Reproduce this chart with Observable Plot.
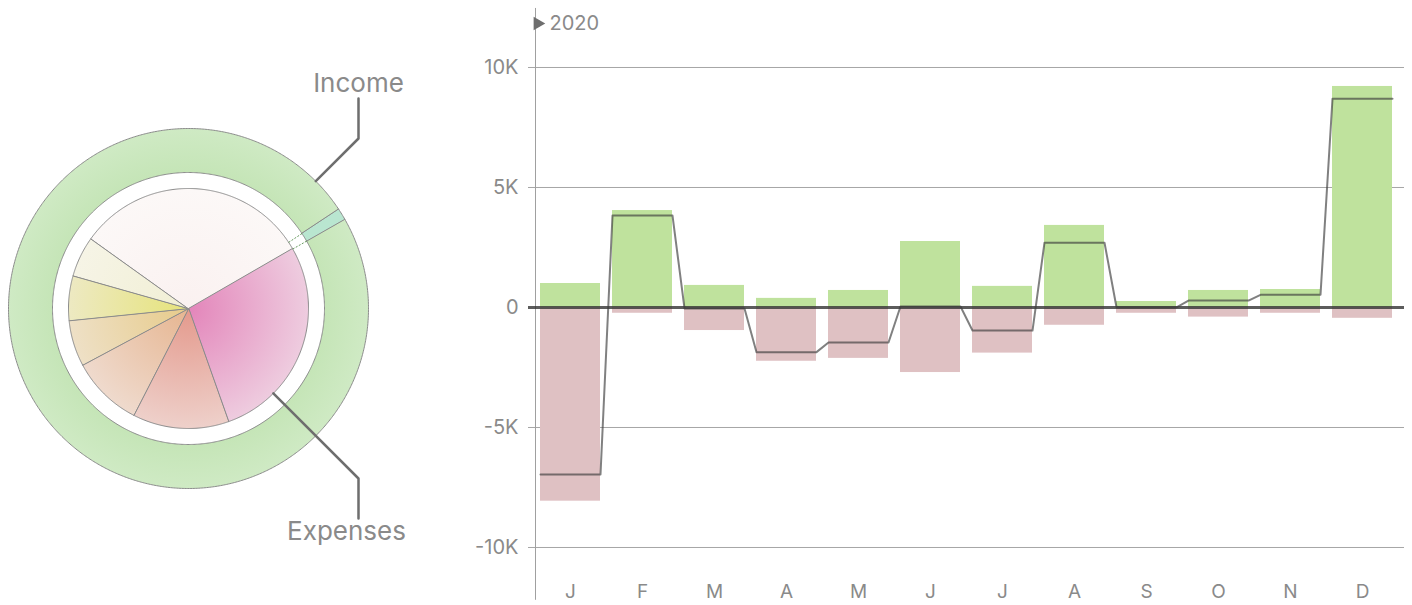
<!DOCTYPE html>
<html>
<head>
<meta charset="utf-8">
<script src="https://cdn.jsdelivr.net/npm/d3@7"></script>
<script src="https://cdn.jsdelivr.net/npm/@observablehq/plot@0.6"></script>
<style>
  html, body { margin: 0; padding: 0; background: #fff; }
  #wrap { display: flex; width: 1412px; height: 605px; overflow: hidden; }
  svg { display: block; }
</style>
</head>
<body>
<div id="wrap"></div>
<script>
// ---------------- DATA ----------------
const months = ["J", "F", "M", "A", "M", "J", "J", "A", "S", "O", "N", "D"];
const income = [1000, 4040, 920, 380, 710, 2750, 880, 3420, 250, 710, 750, 9210];
const expenses = [8070, 240, 960, 2240, 2120, 2710, 1900, 740, 240, 400, 240, 450];
const net = [-6960, 3830, -40, -1860, -1460, 40, -960, 2700, 10, 290, 530, 8700];
const yTicks = [-10000, -5000, 0, 5000, 10000];
const yTickLabels = ["-10K", "-5K", "0", "5K", "10K"];
const yearLabel = "2020";

const incomeCategories = ["Main income", "Other income"];
const incomeValues = [24750, 260];
const expenseCategories = ["Cat 1", "Cat 2", "Cat 3", "Cat 4", "Cat 5", "Cat 6", "Cat 7"];
const expenseValues = [5670, 2630, 1960, 1260, 1220, 1110, 6450];
const ringLabels = ["Income", "Expenses"];

// ---------------- STYLE ----------------
const textColor = "#8a8a8a";
const font = "Inter, 'Open Sans', sans-serif";
const expenseColors = [
  ["#e385ba", "#eeccdf"],
  ["#e4998c", "#eed0ca"],
  ["#e6b590", "#efdacd"],
  ["#e7cb8a", "#eee0c6"],
  ["#e6e37a", "#ede9c2"],
  ["#f1efd4", "#f6f4e6"],
  ["#faf1f0", "#fcf8f7"]
];
const ringColors = ["#c5e5b7", "#cfeac4"];
const otherIncomeColor = "#b9e6d0";

// ---------------- LEFT: RINGS ----------------
const deg = Math.PI / 180;
const R_PIE = 120, R_IN = 136, R_OUT = 180;
const polar = (r, a) => ({x: r * Math.sin(a), y: r * Math.cos(a)});
function sector(r0, r1, a0, a1) {
  const n = Math.max(2, Math.ceil((a1 - a0) / (0.5 * deg)));
  const pts = [];
  for (let k = 0; k <= n; k++) pts.push(polar(r1, a0 + (a1 - a0) * k / n));
  if (r0 > 0) {
    for (let k = n; k >= 0; k--) pts.push(polar(r0, a0 + (a1 - a0) * k / n));
  } else pts.push({x: 0, y: 0});
  return pts;
}
const expArcs = d3.pie().sort(null).startAngle(60 * deg).endAngle(420 * deg)(expenseValues);
const incArcs = d3.pie().sort(null).startAngle(60.3 * deg).endAngle(420.3 * deg)(incomeValues);

const leftMarks = [];
incArcs.forEach((a, i) => {
  leftMarks.push(Plot.line(sector(R_IN, R_OUT, a.startAngle, a.endAngle), {
    x: "x", y: "y", curve: "linear-closed",
    fill: i === 0 ? "url(#ringGrad)" : otherIncomeColor,
    stroke: "#8c8c8c", strokeWidth: 1
  }));
});
expArcs.forEach((a, i) => {
  leftMarks.push(Plot.line(sector(0, R_PIE, a.startAngle, a.endAngle), {
    x: "x", y: "y", curve: "linear-closed",
    fill: `url(#exp${i})`, stroke: "#8c8c8c", strokeWidth: 1
  }));
});
// dashed connectors at the edges of the small income slice
const small = incArcs[1];
const dashLinks = [small.startAngle, small.endAngle].map(a => {
  const p = polar(R_PIE, a), q = polar(R_IN, a);
  return {x1: p.x, y1: p.y, x2: q.x, y2: q.y};
});
leftMarks.push(Plot.link(dashLinks, {x1: "x1", y1: "y1", x2: "x2", y2: "y2",
  stroke: "#3f7f34", strokeWidth: 0.8, strokeDasharray: "2,1.5"}));

// leader lines
const LX = 170, LY = 210;
const incStart = polar(R_OUT, 45 * deg);
const expStart = polar(R_PIE, 135 * deg);
leftMarks.push(Plot.line([incStart, {x: LX, y: LX}, {x: LX, y: LY}], {x: "x", y: "y", stroke: "#6e6e6e", strokeWidth: 2.5}));
leftMarks.push(Plot.line([expStart, {x: LX, y: -LX}, {x: LX, y: -LY}], {x: "x", y: "y", stroke: "#6e6e6e", strokeWidth: 2.5}));
leftMarks.push(Plot.text([ringLabels[0]], {x: LX, y: LY + 15, text: d => d, fill: textColor, fontSize: 26, textAnchor: "middle"}));
leftMarks.push(Plot.text([ringLabels[1]], {x: LX - 12, y: -LY - 13, text: d => d, fill: textColor, fontSize: 26, textAnchor: "middle"}));

const left = Plot.plot({
  width: 420, height: 605,
  marginLeft: 0, marginRight: 0, marginTop: 0, marginBottom: 0,
  x: {domain: [-188, 232], axis: null},
  y: {domain: [-297, 308], axis: null},
  style: {fontFamily: font, background: "transparent", overflow: "visible"},
  marks: leftMarks
});
{
  const cx = left.scale("x").apply(0), cy = left.scale("y").apply(0);
  const ns = "http://www.w3.org/2000/svg";
  const defs = document.createElementNS(ns, "defs");
  let html = `<radialGradient id="ringGrad" gradientUnits="userSpaceOnUse" cx="${cx}" cy="${cy}" r="${R_OUT}">
     <stop offset="${R_IN / R_OUT}" stop-color="${ringColors[0]}"/><stop offset="1" stop-color="${ringColors[1]}"/></radialGradient>`;
  expenseColors.forEach((c, i) => {
    html += `<radialGradient id="exp${i}" gradientUnits="userSpaceOnUse" cx="${cx}" cy="${cy}" r="${R_PIE}">
     <stop offset="0" stop-color="${c[0]}"/><stop offset="1" stop-color="${c[1]}"/></radialGradient>`;
  });
  defs.innerHTML = html;
  left.insertBefore(defs, left.firstChild);
}

// ---------------- RIGHT: BARS ----------------
const pad = 1 / 12;
const rows = months.map((m, i) => ({i, m, income: income[i], expense: -expenses[i], net: net[i]}));
const netPts = rows.flatMap(d => [{x: d.i + pad, y: d.net}, {x: d.i + 1 - pad, y: d.net}]);

const right = Plot.plot({
  width: 992, height: 605,
  marginLeft: 114, marginRight: 14, marginTop: 7, marginBottom: 0,
  x: {domain: [0, 12], axis: null},
  y: {domain: [-12416.67, 12500], axis: null},
  style: {fontFamily: font, background: "transparent", overflow: "visible"},
  marks: [
    Plot.ruleY(yTicks.filter(d => d !== 0), {x1: -pad, x2: 12 + pad, stroke: "#a6a6a6", strokeWidth: 1}),
    Plot.ruleX([0], {y1: -12200, y2: 12460, stroke: "#a0a0a0", strokeWidth: 1, dx: 1}),
    Plot.rect(rows, {x1: d => d.i + pad, x2: d => d.i + 1 - pad, y1: 0, y2: "income", fill: "#bfe29d"}),
    Plot.rect(rows, {x1: d => d.i + pad, x2: d => d.i + 1 - pad, y1: 0, y2: "expense", fill: "#dfc1c3"}),
    Plot.ruleY([0], {x1: -pad, x2: 12 + pad, stroke: "#333", strokeWidth: 3, strokeOpacity: 0.8}),
    Plot.line(netPts, {x: "x", y: "y", stroke: "#3c3c3c", strokeWidth: 2, strokeOpacity: 0.65}),
    Plot.text(yTicks, {x: 0, y: d => d, text: (d, i) => yTickLabels[i], textAnchor: "end", dx: -16,
      fill: textColor, fontSize: 20}),
    Plot.text(rows, {x: d => d.i + 0.5, y: -11850, text: "m", fill: textColor, fontSize: 19, textAnchor: "middle"}),
    Plot.dot([yearLabel], {x: 0, y: 11833, dx: 3, symbol: "triangle", rotate: 90, r: 5, fill: "#6e6e6e", stroke: null}),
    Plot.text([yearLabel], {x: 0, y: 11833, dx: 15, text: d => d, textAnchor: "start", fill: textColor, fontSize: 20})
  ]
});

const wrap = document.getElementById("wrap");
wrap.appendChild(left);
wrap.appendChild(right);
</script>
</body>
</html>
